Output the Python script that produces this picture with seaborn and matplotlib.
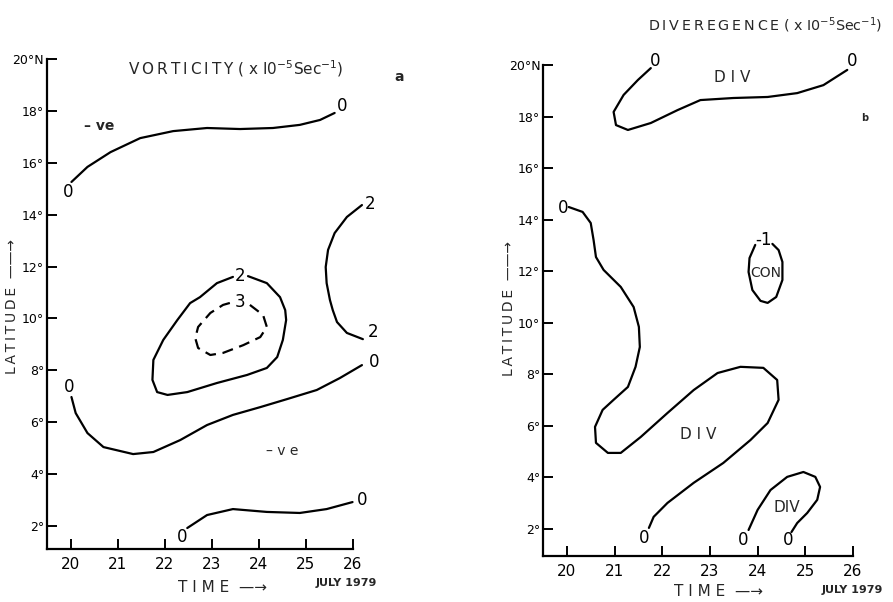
import matplotlib
matplotlib.use("Agg")
import matplotlib.pyplot as plt
import seaborn as sns
import pandas as pd

# ---------------- data ----------------
# Panel a: vorticity contours (day of July 1979, latitude)
vort_top0_day = [20.02, 20.36, 20.85, 21.48, 22.18, 22.90, 23.60, 24.30, 24.87, 25.30, 25.61]
vort_top0_lat = [15.26, 15.84, 16.41, 16.95, 17.22, 17.34, 17.30, 17.34, 17.46, 17.65, 17.92]

vort_right2_day = [26.19, 25.87, 25.61, 25.47, 25.42, 25.44, 25.51, 25.57, 25.66, 25.87, 26.21]
vort_right2_lat = [14.37, 13.91, 13.29, 12.64, 11.98, 11.36, 10.71, 10.32, 9.86, 9.44, 9.20]

vort_loop2_day = [23.77, 24.17, 24.45, 24.56, 24.58, 24.51, 24.39, 24.17, 23.75, 23.11, 22.48,
                  22.06, 21.84, 21.74, 21.76, 21.97, 22.27, 22.54, 22.75, 23.11, 23.45]
vort_loop2_lat = [11.63, 11.36, 10.82, 10.32, 9.94, 9.17, 8.51, 8.09, 7.82, 7.51, 7.16,
                  7.05, 7.16, 7.63, 8.40, 9.17, 9.94, 10.59, 10.82, 11.36, 11.60]

vort_loop3_day = [23.81, 24.09, 24.17, 24.03, 23.67, 23.24, 22.97, 22.71, 22.65, 22.71, 22.97, 23.24, 23.45]
vort_loop3_lat = [10.52, 10.13, 9.67, 9.28, 8.97, 8.67, 8.59, 8.86, 9.24, 9.67, 10.21, 10.52, 10.63]

vort_mid0_day = [20.02, 20.11, 20.36, 20.70, 21.33, 21.76, 22.33, 22.90, 23.45, 24.03, 24.60, 25.23, 25.72, 26.19]
vort_mid0_lat = [6.97, 6.35, 5.58, 5.04, 4.77, 4.85, 5.31, 5.89, 6.28, 6.58, 6.89, 7.24, 7.70, 8.20]

vort_bot0_day = [22.48, 22.90, 23.45, 24.17, 24.87, 25.44, 25.99]
vort_bot0_lat = [1.92, 2.42, 2.65, 2.54, 2.50, 2.65, 2.92]

# Panel b: divergence contours
div_top0_day = [21.76, 21.49, 21.19, 20.98, 21.03, 21.28, 21.76, 22.32, 22.80, 23.49, 24.21, 24.83, 25.38, 25.88]
div_top0_lat = [19.88, 19.42, 18.84, 18.18, 17.67, 17.48, 17.75, 18.25, 18.64, 18.72, 18.76, 18.91, 19.22, 19.81]

div_con_day = [23.95, 23.83, 23.81, 23.89, 24.06, 24.21, 24.39, 24.52, 24.52, 24.44, 24.31]
div_con_lat = [13.02, 12.51, 11.97, 11.27, 10.85, 10.77, 11.00, 11.66, 12.36, 12.82, 13.06]

div_big0_day = [20.04, 20.33, 20.50, 20.56, 20.61, 20.77, 21.13, 21.40, 21.51, 21.53, 21.44, 21.28,
                20.98, 20.75, 20.59, 20.61, 20.86, 21.13, 21.55, 22.11, 22.66, 23.16, 23.64, 24.12,
                24.41, 24.44, 24.21, 23.85, 23.28, 22.66, 22.11, 21.82, 21.72]
div_big0_lat = [14.49, 14.30, 13.87, 13.21, 12.55, 12.05, 11.39, 10.61, 9.84, 9.06, 8.29, 7.51,
                7.01, 6.62, 5.96, 5.34, 4.95, 4.95, 5.57, 6.50, 7.39, 8.05, 8.29, 8.25,
                7.78, 7.01, 6.11, 5.45, 4.56, 3.79, 3.01, 2.47, 2.04]

div_small0_day = [23.81, 24.00, 24.27, 24.62, 24.96, 25.21, 25.31, 25.25, 25.04, 24.83, 24.71]
div_small0_lat = [1.96, 2.74, 3.51, 4.02, 4.21, 4.02, 3.63, 3.13, 2.62, 2.23, 1.88]

x_ticks = [20, 21, 22, 23, 24, 25, 26]
x_tick_labels = ["20", "21", "22", "23", "24", "25", "26"]
y_ticks = [2, 4, 6, 8, 10, 12, 14, 16, 18, 20]
y_tick_labels = ["2°", "4°", "6°", "8°", "10°", "12°", "14°", "16°", "18°", "20°N"]

# ---------------- figure ----------------
sns.set_theme(style="white")
plt.rcParams["font.family"] = ["DejaVu Sans"]

fig = plt.figure(figsize=(8.93, 6.02), dpi=100)
ax_a = fig.add_axes([0.0526, 0.0880, 0.3427, 0.8140])
ax_b = fig.add_axes([0.6081, 0.0764, 0.3471, 0.8156])


def draw(ax, days, lats, dashed=False):
    df = pd.DataFrame({"day": days, "lat": lats})
    sns.lineplot(data=df, x="day", y="lat", sort=False, estimator=None, ax=ax,
                 color="black", lw=1.6,
                 linestyle=(0, (5, 3)) if dashed else "-")


draw(ax_a, vort_top0_day, vort_top0_lat)
draw(ax_a, vort_right2_day, vort_right2_lat)
draw(ax_a, vort_loop2_day, vort_loop2_lat)
draw(ax_a, vort_loop3_day, vort_loop3_lat, dashed=True)
draw(ax_a, vort_mid0_day, vort_mid0_lat)
draw(ax_a, vort_bot0_day, vort_bot0_lat)

draw(ax_b, div_top0_day, div_top0_lat)
draw(ax_b, div_con_day, div_con_lat)
draw(ax_b, div_big0_day, div_big0_lat)
draw(ax_b, div_small0_day, div_small0_lat)

lim = {ax_a: (1.11, 20.0), ax_b: (0.95, 20.0)}
for ax in (ax_a, ax_b):
    for ln in ax.lines:
        ln.set_clip_on(False)
        ln.set_solid_joinstyle("round")
        ln.set_solid_capstyle("round")
    ax.set_xlim(19.5, 26.0)
    ax.set_ylim(*lim[ax])
    ax.set_xticks(x_ticks)
    ax.set_xticklabels(x_tick_labels, fontsize=11)
    ax.set_yticks(y_ticks)
    ax.set_yticklabels(y_tick_labels, fontsize=9)
    ax.set_xlabel("")
    ax.set_ylabel("")
    for s in ("top", "right"):
        ax.spines[s].set_visible(False)
    for s in ("left", "bottom"):
        ax.spines[s].set_color("black")
        ax.spines[s].set_linewidth(1.6)
    ax.tick_params(axis="both", direction="in", length=7, width=1.4, color="black",
                   left=True, bottom=True, labelcolor="black")
    ax.tick_params(axis="y", pad=2)
    ax.tick_params(axis="x", pad=6)
    ax.patch.set_alpha(0)

# contour labels panel a
lab = dict(fontsize=12, ha="center", va="center", color="black")
ax_a.text(19.94, 14.87, "0", **lab)
ax_a.text(25.76, 18.19, "0", **lab)
ax_a.text(26.36, 14.40, "2", **lab)
ax_a.text(26.42, 9.47, "2", **lab)
ax_a.text(23.60, 11.63, "2", **lab)
ax_a.text(23.60, 10.63, "3", **lab)
ax_a.text(19.96, 7.36, "0", **lab)
ax_a.text(26.44, 8.32, "0", **lab)
ax_a.text(22.37, 1.57, "0", **lab)
ax_a.text(26.19, 3.00, "0", **lab)
ax_a.text(20.60, 17.40, "– ve", fontsize=10, ha="center", va="center", fontweight="bold")
ax_a.text(24.50, 4.89, "– v e", fontsize=10, ha="center", va="center")

# contour labels panel b
ax_b.text(21.86, 20.16, "0", **lab)
ax_b.text(25.98, 20.16, "0", **lab)
ax_b.text(23.47, 19.50, "D I V", fontsize=11, ha="center", va="center")
ax_b.text(24.12, 13.20, "-1", **lab)
ax_b.text(24.17, 11.93, "CON", fontsize=10, ha="center", va="center")
ax_b.text(19.92, 14.45, "0", **lab)
ax_b.text(22.76, 5.65, "D I V", fontsize=11, ha="center", va="center")
ax_b.text(21.61, 1.65, "0", **lab)
ax_b.text(23.70, 1.57, "0", **lab)
ax_b.text(24.64, 1.57, "0", **lab)
ax_b.text(24.62, 2.85, "DIV", fontsize=11, ha="center", va="center")

# titles and axis labels
ts = "\u2009"
vort_title = ts.join("VORTICITY") + " ( x I0$^{-5}$Sec$^{-1}$)"
div_title = ts.join("DIVEREGENCE") + " ( x I0$^{-5}$Sec$^{-1}$)"
fig.text(236 / 893, 1 - 69 / 602, vort_title, fontsize=11, ha="center", va="center")
fig.text(399 / 893, 1 - 77 / 602, "a", fontsize=10, ha="center", va="center", fontweight="bold")
fig.text(765 / 893, 1 - 25 / 602, div_title, fontsize=10.3, ha="center", va="center")
fig.text(865 / 893, 1 - 118 / 602, "b", fontsize=7, ha="center", va="center", fontweight="bold")

lat_label = ts.join("LATITUDE") + "  ——→"
fig.text(12 / 893, 1 - 306 / 602, lat_label, fontsize=10, rotation=90,
         ha="center", va="center")
fig.text(509 / 893, 1 - 308 / 602, lat_label, fontsize=10, rotation=90,
         ha="center", va="center")
fig.text(223 / 893, 1 - 587 / 602, "T I M E  —→", fontsize=11, ha="center", va="center")
fig.text(346 / 893, 1 - 583 / 602, "JULY 1979", fontsize=8, ha="center", va="center",
         fontweight="bold")
fig.text(719 / 893, 1 - 592 / 602, "T I M E  —→", fontsize=11, ha="center", va="center")
fig.text(852 / 893, 1 - 590 / 602, "JULY 1979", fontsize=8, ha="center", va="center",
         fontweight="bold")

fig.savefig("out.png", dpi=100, facecolor="white")
